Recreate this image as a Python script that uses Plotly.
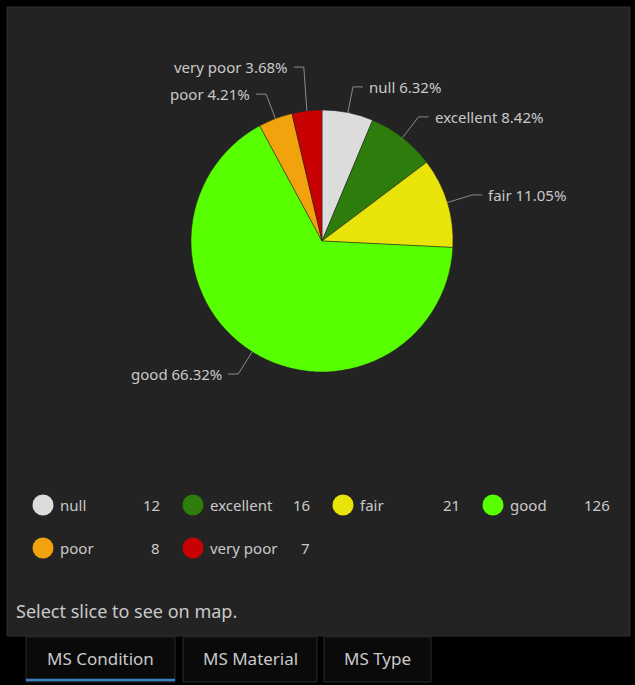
import math
import plotly.graph_objects as go

# ---- data ----
categories = ["null", "excellent", "fair", "good", "poor", "very poor"]
counts = [12, 16, 21, 126, 8, 7]
colors = ["#dcdcdc", "#2e7c0c", "#e8e40a", "#58ff00", "#f2a20c", "#c80202"]
tab_labels = ["MS Condition", "MS Material", "MS Type"]
footer_text = "Select slice to see on map."

W, H = 635, 685
FONT = "Noto Sans"
TXT = "#c9c9c9"

# pie geometry (pixels)
cx, cy, r = 322, 241, 131

fig = go.Figure()

fig.add_trace(go.Pie(
    labels=categories, values=counts, sort=False, direction="clockwise", rotation=0,
    marker=dict(colors=colors, line=dict(color="#232323", width=0.5)),
    textinfo="none", hoverinfo="label+value+percent", showlegend=False,
    domain=dict(x=[(cx - r) / W, (cx + r) / W], y=[(H - cy - r) / H, (H - cy + r) / H]),
))

shapes = []
annotations = []

# panel
shapes.append(dict(type="rect", xref="x", yref="y", x0=7, x1=630, y0=7, y1=636,
                   fillcolor="#232323", line=dict(color="#2e2e2e", width=1), layer="below"))

# ---- outside labels with leader lines ----
total = sum(counts)
cum = 0
items = []
for lab, v in zip(categories, counts):
    mid = (cum + v / 2) / total * 2 * math.pi
    cum += v
    s, c = math.sin(mid), math.cos(mid)
    items.append(dict(lab=lab, v=v, ex=cx + r * s, ey=cy - r * c,
                      kx=cx + 1.2 * r * s, ky=cy - 1.2 * r * c, right=s >= 0))

gap = 27
left = sorted([it for it in items if not it["right"]], key=lambda d: -d["ky"])
for a, b in zip(left, left[1:]):
    if b["ky"] > a["ky"] - gap:
        b["ky"] = a["ky"] - gap
right = sorted([it for it in items if it["right"]], key=lambda d: d["ky"])
for a, b in zip(right, right[1:]):
    if b["ky"] < a["ky"] + gap:
        b["ky"] = a["ky"] + gap

for it in items:
    sgn = 1 if it["right"] else -1
    hx = it["kx"] + sgn * 10
    shapes.append(dict(type="path", xref="x", yref="y",
                       path=f"M {it['ex']:.1f},{it['ey']:.1f} L {it['kx']:.1f},{it['ky']:.1f} L {hx:.1f},{it['ky']:.1f}",
                       line=dict(color="#8a8a8a", width=1)))
    annotations.append(dict(x=hx + sgn * 4, y=it["ky"], xref="x", yref="y",
                            text=f"{it['lab']} {it['v'] / total * 100:.2f}%", showarrow=False,
                            xanchor="left" if it["right"] else "right", yanchor="middle",
                            font=dict(family=FONT, size=15, color=TXT)))

# ---- custom legend ----
lx = [43 + 150 * (i % 4) for i in range(len(categories))]
ly = [505 + 43 * (i // 4) for i in range(len(categories))]
fig.add_trace(go.Scatter(x=lx, y=ly, mode="markers", showlegend=False, hoverinfo="skip",
                         marker=dict(size=21, color=colors, line=dict(width=0))))
for x, y, lab, v in zip(lx, ly, categories, counts):
    annotations.append(dict(x=x + 15, y=y, xref="x", yref="y", text=lab, showarrow=False,
                            xanchor="left", yanchor="middle",
                            font=dict(family=FONT, size=15, color=TXT)))
    annotations.append(dict(x=x + 119, y=y, xref="x", yref="y", text=str(v), showarrow=False,
                            xanchor="right", yanchor="middle",
                            font=dict(family=FONT, size=15, color=TXT)))

annotations.append(dict(x=14, y=611, xref="x", yref="y", text=footer_text, showarrow=False,
                        xanchor="left", yanchor="middle",
                        font=dict(family=FONT, size=18, color=TXT)))

# ---- tabs ----
tab_x = [(26, 175), (183, 317), (324, 431)]
for i, ((x0, x1), t) in enumerate(zip(tab_x, tab_labels)):
    shapes.append(dict(type="rect", xref="x", yref="y", x0=x0, x1=x1, y0=637, y1=682,
                       fillcolor="#0a0a0a", line=dict(color="#2a2a2a", width=1), layer="below"))
    annotations.append(dict(x=(x0 + x1) / 2, y=658, xref="x", yref="y", text=t, showarrow=False,
                            xanchor="center", yanchor="middle",
                            font=dict(family=FONT, size=17, color=TXT)))
    if i == 0:
        shapes.append(dict(type="line", xref="x", yref="y", x0=x0, x1=x1, y0=680, y1=680,
                           line=dict(color="#3b82c4", width=2.5)))

fig.update_layout(
    width=W, height=H, margin=dict(l=0, r=0, t=0, b=0),
    paper_bgcolor="#000000", plot_bgcolor="rgba(0,0,0,0)",
    xaxis=dict(range=[0, W], visible=False, fixedrange=True),
    yaxis=dict(range=[H, 0], visible=False, fixedrange=True),
    shapes=shapes, annotations=annotations, showlegend=False,
)

fig.write_html(
    "out.html",
    config={"displayModeBar": False},
    post_script="document.body.style.margin='0';document.body.style.background='#000';",
)
